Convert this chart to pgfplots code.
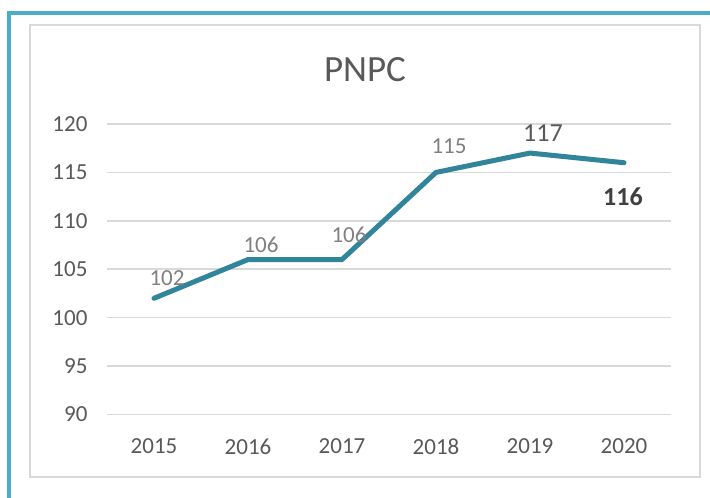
\documentclass[border=0pt]{standalone}
\usepackage{fontspec}
\setmainfont{Carlito}
\usepackage{pgfplots}
\pgfplotsset{compat=1.18}
\definecolor{linea}{RGB}{49,133,155}
\definecolor{marco}{RGB}{75,172,198}
\definecolor{rejilla}{RGB}{217,217,217}
\definecolor{texto}{RGB}{89,89,89}
\definecolor{etiq}{RGB}{128,128,128}
\begin{document}
\begin{tikzpicture}[x=1pt,y=1pt]
\useasboundingbox (0,0) rectangle (710,498);
\fill[white] (0,0) rectangle (710,498);
\draw[rejilla, line width=1.5pt] (30,21) rectangle (700,473);
\draw[marco, line width=4.5pt] (9,-20) -- (9,485) -- (730,485);
\begin{axis}[
  at={(107pt,83.5pt)}, anchor=south west,
  scale only axis, width=564pt, height=290.5pt,
  xmin=-0.5, xmax=5.5, ymin=90, ymax=120,
  xtick={0,1,2,3,4,5},
  xticklabels={2015,2016,2017,2018,2019,2020},
  ytick={90,95,100,105,110,115,120},
  axis line style={draw=none}, major tick length=0pt,
  ymajorgrids, grid style={rejilla, line width=1.5pt},
  ticklabel style={font=\fontsize{23}{26}\selectfont, text=texto},
  /pgf/number format/assume math mode=true,
  yticklabel style={xshift=-16pt},
  xticklabel style={yshift=-21pt},
  clip=false,
]
\addplot[linea, line width=5pt, line cap=round, line join=round, mark=none]
  coordinates {(0,102)(1,106)(2,106)(3,115)(4,117)(5,116)};
\begin{scope}[every node/.style={font=\fontsize{23}{26}\selectfont}]
\node[etiq] at (axis cs:0,102) [xshift=13pt,yshift=20pt] {102};
\node[etiq] at (axis cs:1,106) [xshift=13pt,yshift=15pt] {106};
\node[etiq] at (axis cs:2,106) [xshift=7pt,yshift=25pt] {106};
\node[etiq] at (axis cs:3,115) [xshift=13pt,yshift=26pt] {115};
\node[texto, font=\fontsize{26}{29}\selectfont] at (axis cs:4,117) [xshift=13pt,yshift=20pt] {117};
\node[text={rgb,255:red,64;green,64;blue,64}, font=\fontsize{26}{29}\selectfont\bfseries] at (axis cs:5,116) [xshift=-1pt,yshift=-34pt] {116};
\end{scope}
\end{axis}
\node[text=texto, font=\fontsize{37}{40}\selectfont] at (365,428) {PNPC};
\end{tikzpicture}
\end{document}
